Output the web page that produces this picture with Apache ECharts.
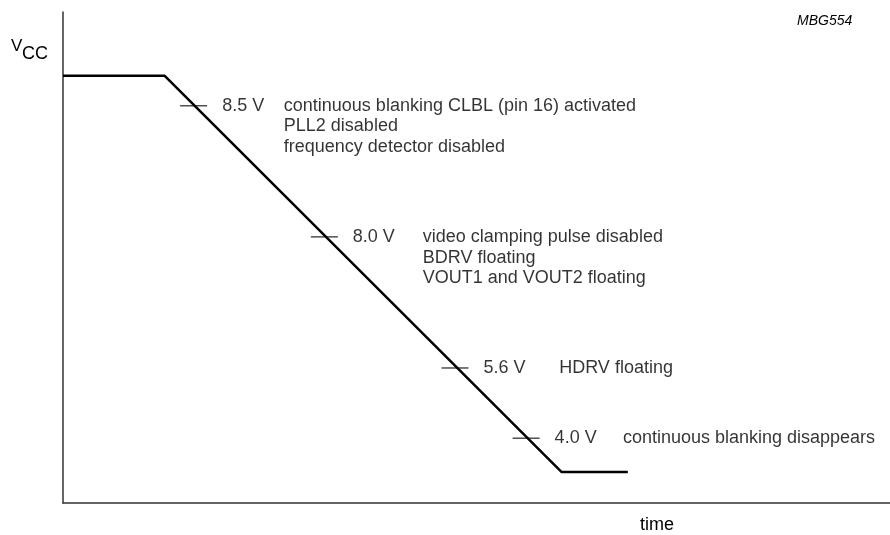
<!DOCTYPE html>
<html lang="en">
<head>
    <meta charset="UTF-8">
    <title>VCC power-down</title>
    <script src="https://cdn.jsdelivr.net/npm/echarts@6/dist/echarts.min.js"></script>
    <style>
        html, body { margin: 0; padding: 0; background: #fff; }
        #chart { width: 890px; height: 535px; }
    </style>
</head>
<body>
<div id="chart"></div>
<script>
    // supply profile (arbitrary time / level units)
    var profileTime  = [0, 12.3, 60.3, 68.3];
    var profileLevel = [87.0, 87.0, 6.3, 6.3];

    // threshold ticks on the falling edge
    var tickTime   = [15.8, 31.6, 47.4, 56.0];
    var tickLevel  = [80.9, 54.2, 27.5, 13.2];
    var tickLabels = ['8.5 V', '8.0 V', '5.6 V', '4.0 V'];

    // what happens at each threshold
    var noteTime = [26.7, 43.5, 60.0, 67.7];
    var notes = [
        ['continuous blanking CLBL (pin 16) activated', 'PLL2 disabled', 'frequency detector disabled'],
        ['video clamping pulse disabled', 'BDRV floating', 'VOUT1 and VOUT2 floating'],
        ['HDRV floating'],
        ['continuous blanking disappears']
    ];

    var FONT = "'Liberation Sans', Arial, sans-serif";
    var myChart = echarts.init(document.getElementById('chart'));

    var lineData = [];
    for (var i = 0; i < profileTime.length; i++) {
        lineData.push([profileTime[i], profileLevel[i]]);
    }
    var tickData = [];
    var noteData = [];
    for (var j = 0; j < tickTime.length; j++) {
        tickData.push({value: [tickTime[j], tickLevel[j]], name: tickLabels[j]});
        noteData.push({value: [noteTime[j], tickLevel[j]], name: notes[j].join('\n')});
    }

    var axisLine = {show: true, lineStyle: {color: '#333', width: 1.5}};

    option = {
        animation: false,
        backgroundColor: '#fff',
        grid: {left: 63, right: 0, top: 12, bottom: 32},
        xAxis: {
            type: 'value', min: 0, max: 100,
            axisLine: axisLine, axisTick: {show: false},
            axisLabel: {show: false}, splitLine: {show: false}
        },
        yAxis: {
            type: 'value', min: 0, max: 100,
            axisLine: axisLine, axisTick: {show: false},
            axisLabel: {show: false}, splitLine: {show: false}
        },
        graphic: [
            {type: 'text', left: 11, top: 38, style: {text: 'V', font: '17px ' + FONT, fill: '#000'}},
            {type: 'text', left: 22, top: 45, style: {text: 'CC', font: '18px ' + FONT, fill: '#000'}},
            {type: 'text', left: 797, top: 14, style: {text: 'MBG554', font: 'italic 14px ' + FONT, fill: '#000'}},
            {type: 'text', left: 640, top: 516, style: {text: 'time', font: '18px ' + FONT, fill: '#000'}}
        ],
        series: [
            {
                type: 'line',
                data: lineData,
                symbol: 'none',
                lineStyle: {color: '#000', width: 2.5},
                z: 2
            },
            {
                type: 'scatter',
                data: tickData,
                symbol: 'rect',
                symbolSize: [27, 1.3],
                itemStyle: {color: '#000'},
                label: {
                    show: true,
                    position: 'right',
                    distance: 15,
                    formatter: '{b}',
                    color: '#000',
                    fontFamily: FONT,
                    fontSize: 18
                },
                z: 3
            },
            {
                type: 'scatter',
                data: noteData,
                symbolSize: 0,
                itemStyle: {color: 'transparent'},
                label: {
                    show: true,
                    position: 'right',
                    distance: 0,
                    formatter: '{b}',
                    color: '#000',
                    fontFamily: FONT,
                    fontSize: 18,
                    lineHeight: 20.5,
                    verticalAlign: 'top',
                    offset: [0, -10]
                },
                z: 3
            }
        ]
    };

    myChart.setOption(option);
</script>
</body>
</html>
